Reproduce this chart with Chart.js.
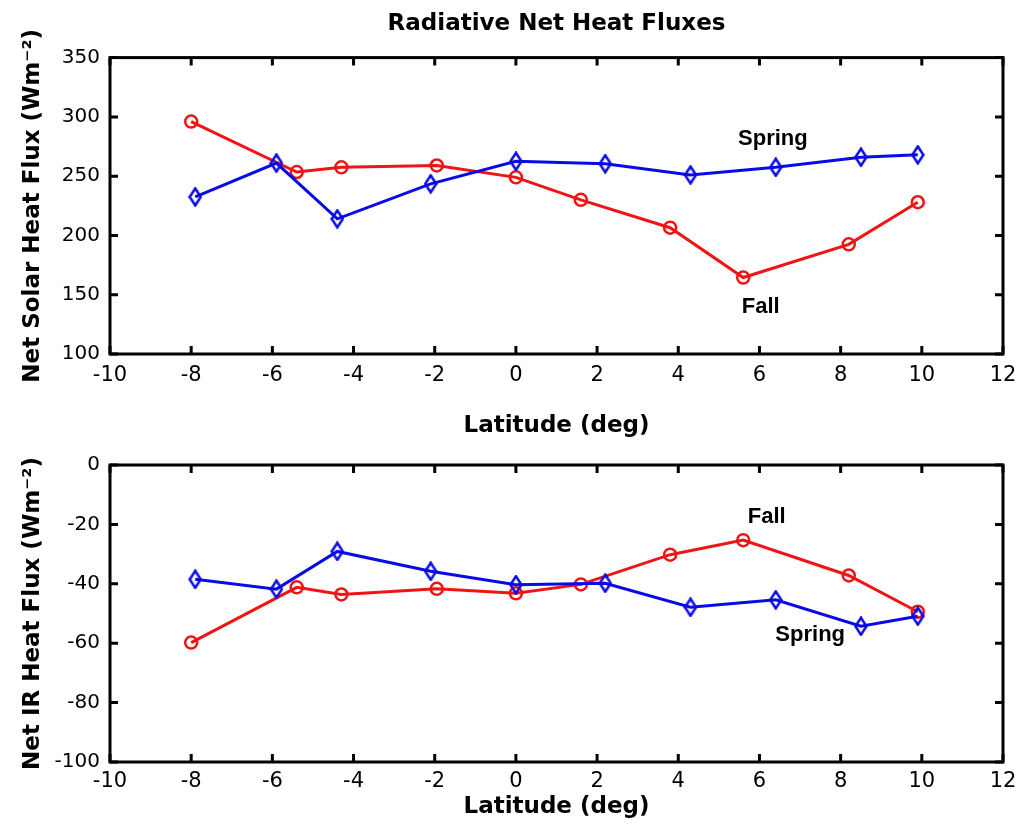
<!DOCTYPE html>
<html>
<head>
<meta charset="utf-8">
<title>Radiative Net Heat Fluxes</title>
<script src="https://cdn.jsdelivr.net/npm/chart.js@4.4.1/dist/chart.umd.min.js"></script>
<style>
  html, body { margin: 0; padding: 0; background: #fff; }
  #wrap { position: relative; width: 1021px; height: 830px; }
  canvas { position: absolute; left: 0; }
  #solar { top: 0; }
  #ir { top: 443px; }
</style>
</head>
<body>
<div id="wrap">
  <canvas id="solar" width="1021" height="450"></canvas>
  <canvas id="ir" width="1021" height="387"></canvas>
</div>
<script>
// station latitudes (deg) for each cruise
var fallLat   = [-8.0, -5.4, -4.3, -1.95, 0.0, 1.6, 3.8, 5.6, 8.2, 9.9];
var springLat = [-7.9, -5.9, -4.4, -2.1, 0.0, 2.2, 4.3, 6.4, 8.5, 9.9];

// net solar heat flux (W m-2)
var solarFall   = [296, 253.5, 257.5, 259, 249, 230, 206.5, 164.5, 192.5, 228];
var solarSpring = [232.5, 261, 214, 243.5, 262.5, 260.5, 251, 257.5, 266, 268];

// net IR heat flux (W m-2)
var irFall   = [-59.8, -41.2, -43.6, -41.7, -43.2, -40.2, -30.2, -25.3, -37.2, -49.4];
var irSpring = [-38.5, -41.8, -29.1, -35.8, -40.3, -39.8, -47.9, -45.4, -54.3, -50.9];

// tick labels
var latTicks   = [-10, -8, -6, -4, -2, 0, 2, 4, 6, 8, 10, 12];
var solarTicks = [100, 150, 200, 250, 300, 350];
var irTicks    = [-100, -80, -60, -40, -20, 0];

// curve labels: text, latitude, flux
var solarNoteText = ['Spring', 'Fall'];
var solarNoteLat  = [6.33, 6.03];
var solarNoteVal  = [281.7, 140];
var irNoteText = ['Fall', 'Spring'];
var irNoteLat  = [6.18, 7.25];
var irNoteVal  = [-17.4, -57.2];

var RED = 'rgb(240,20,20)';
var BLUE = 'rgb(10,10,230)';

Chart.defaults.font.family = 'DejaVu Sans';
Chart.defaults.color = '#000';

function pairs(xs, ys) {
    return xs.map(function (x, i) { return { x: x, y: ys[i] }; });
}

// matlab style diamond (taller than wide)
function diamondMarker(color) {
    var c = document.createElement('canvas');
    c.width = 14; c.height = 20;
    var g = c.getContext('2d');
    g.strokeStyle = color;
    g.lineWidth = 2.5;
    g.beginPath();
    g.moveTo(7, 1.5); g.lineTo(12.5, 10); g.lineTo(7, 18.5); g.lineTo(1.5, 10);
    g.closePath();
    g.stroke();
    return c;
}

// box around plot + inward ticks on all four sides
var framePlugin = {
    id: 'frame',
    afterDatasetsDraw: function (chart) {
        var a = chart.chartArea, ctx = chart.ctx;
        var xs = chart.scales.x, ys = chart.scales.y;
        ctx.save();
        ctx.strokeStyle = '#000';
        ctx.lineWidth = 3;
        ctx.beginPath();
        xs.ticks.forEach(function (t) {
            var px = xs.getPixelForValue(t.value);
            ctx.moveTo(px, a.bottom); ctx.lineTo(px, a.bottom - 8);
            ctx.moveTo(px, a.top); ctx.lineTo(px, a.top + 8);
        });
        ys.ticks.forEach(function (t) {
            var py = ys.getPixelForValue(t.value);
            ctx.moveTo(a.left, py); ctx.lineTo(a.left + 8, py);
            ctx.moveTo(a.right, py); ctx.lineTo(a.right - 8, py);
        });
        ctx.stroke();
        ctx.strokeRect(a.left, a.top, a.right - a.left, a.bottom - a.top);
        ctx.restore();
    }
};

// text labels placed in data coordinates
var notesPlugin = {
    id: 'notes',
    afterDraw: function (chart, args, opts) {
        var ctx = chart.ctx, xs = chart.scales.x, ys = chart.scales.y;
        ctx.save();
        ctx.font = 'bold 22px "Liberation Sans", Arial, sans-serif';
        ctx.fillStyle = '#000';
        ctx.textAlign = 'center';
        ctx.textBaseline = 'middle';
        opts.text.forEach(function (s, i) {
            ctx.fillText(s, xs.getPixelForValue(opts.lat[i]), ys.getPixelForValue(opts.val[i]));
        });
        ctx.restore();
    }
};

function fluxChart(id, fall, spring, yTicks, yTitle, notes, geo) {
    return new Chart(document.getElementById(id), {
        type: 'line',
        data: {
            datasets: [
                {
                    label: 'Spring',
                    data: pairs(springLat, spring),
                    borderColor: BLUE,
                    borderWidth: 3,
                    pointStyle: diamondMarker(BLUE),
                    pointRadius: 7,
                    tension: 0
                },
                {
                    label: 'Fall',
                    data: pairs(fallLat, fall),
                    borderColor: RED,
                    borderWidth: 3,
                    pointStyle: 'circle',
                    pointRadius: 6,
                    pointBorderWidth: 2.5,
                    pointBorderColor: RED,
                    pointBackgroundColor: 'rgba(0,0,0,0)',
                    tension: 0
                }
            ]
        },
        options: {
            responsive: false,
            animation: false,
            layout: { padding: { top: 0, right: 18, left: 0, bottom: 0 } },
            plugins: {
                legend: { display: false },
                tooltip: { enabled: false },
                title: geo.title ? {
                    display: true,
                    text: geo.title,
                    fullSize: false,
                    font: { size: 23, weight: 'bold' },
                    padding: { top: 10, bottom: 20 }
                } : { display: false },
                notes: notes
            },
            scales: {
                x: {
                    type: 'linear',
                    min: latTicks[0],
                    max: latTicks[latTicks.length - 1],
                    grid: { display: false, drawTicks: false },
                    border: { display: false },
                    ticks: {
                        stepSize: latTicks[1] - latTicks[0],
                        padding: 0,
                        font: { size: 21, lineHeight: geo.xTickLine }
                    },
                    title: {
                        display: true,
                        text: 'Latitude (deg)',
                        font: { size: 23, weight: 'bold' },
                        padding: { top: 0, bottom: geo.xTitlePad }
                    },
                    afterFit: function (s) { s.height = geo.xHeight; }
                },
                y: {
                    min: yTicks[0],
                    max: yTicks[yTicks.length - 1],
                    grid: { display: false, drawTicks: false },
                    border: { display: false },
                    ticks: { stepSize: yTicks[1] - yTicks[0], padding: 10, font: { size: 20 } },
                    title: {
                        display: true,
                        text: yTitle,
                        font: { size: 23, weight: 'bold' },
                        padding: { top: 19, bottom: 0 }
                    },
                    afterFit: function (s) { s.width = 110; }
                }
            }
        },
        plugins: [framePlugin, notesPlugin]
    });
}

fluxChart('solar', solarFall, solarSpring, solarTicks, 'Net Solar Heat Flux (Wm\u207B\u00B2)',
    { text: solarNoteText, lat: solarNoteLat, val: solarNoteVal },
    { title: 'Radiative Net Heat Fluxes', xHeight: 96, xTickLine: '44px', xTitlePad: 10 });

fluxChart('ir', irFall, irSpring, irTicks, 'Net IR Heat Flux (Wm\u207B\u00B2)',
    { text: irNoteText, lat: irNoteLat, val: irNoteVal },
    { title: null, xHeight: 68, xTickLine: '40px', xTitlePad: 9 });
</script>
</body>
</html>
